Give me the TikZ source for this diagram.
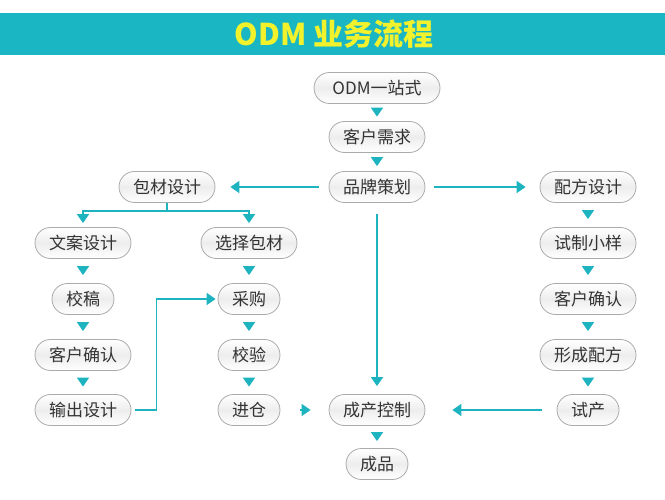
\documentclass[tikz,border=0pt]{standalone}
\usepackage{fontspec}
\newfontfamily\cjk{Noto Sans CJK SC}
\usepackage{tikz}
\usetikzlibrary{calc}
\usetikzlibrary{shapes}
\usetikzlibrary{arrows.meta}

\definecolor{bandteal}{HTML}{1BB6C3}
\definecolor{lineteal}{HTML}{1DB3BF}
\definecolor{titleyellow}{HTML}{F2F22C}
\definecolor{boxgray}{HTML}{ABABAB}
\definecolor{txtgray}{HTML}{333333}

\tikzset{
  pill/.style={rectangle, rounded corners=15.5pt, draw=boxgray, line width=0.8pt,
    top color=white, bottom color=white, middle color=black!7,
    minimum height=31pt, inner xsep=14pt, inner ysep=0pt, text=txtgray,
    font=\cjk\fontsize{17}{17}\selectfont},
  link/.style={draw=lineteal, line width=1.6pt, -{Triangle[length=9pt,width=12pt]}},
  gaptip/.style={link, shorten <=#1, shorten >=#1},
}

\begin{document}
\begin{tikzpicture}[x=1pt, y=-1pt]
\useasboundingbox (0,0) rectangle (665,500);
\fill[bandteal] (0,13) rectangle (665,55);
\draw (334,34) node[name=title, text=titleyellow, font=\cjk\bfseries\fontsize{30}{30}\selectfont]{ODM 业务流程};

% middle column
\draw (377,88) node[pill, name=odm, minimum width=126pt]{ODM一站式};
\draw (odm) + (0,49) node[pill, name=xuqiu]{客户需求};
\draw (xuqiu) + (0,50) node[pill, name=cehua]{品牌策划};
\draw (377,410) node[pill, name=kongzhi]{成产控制};
\draw (kongzhi) + (0,54) node[pill, name=chengpin]{成品};
\draw[gaptip=4.5pt] (odm.south) -- (xuqiu.north);
\draw[gaptip=5pt] (xuqiu.south) -- (cehua.north);
\draw[gaptip=7pt] (kongzhi.south) -- (chengpin.north);
\draw[link, shorten <=11pt, shorten >=8pt] (cehua) -- (kongzhi);

% packaging branch
\draw (167,187) node[pill, name=baocai]{包材设计};
\draw (83,243) node[pill, name=wenan]{文案设计};
\draw (wenan) + (0,56) node[pill, name=jiaogao]{校稿};
\draw (jiaogao) + (0,56) node[pill, name=querenA]{客户确认};
\draw (querenA) + (0,55) node[pill, name=shuchu]{输出设计};
\draw (249,243) node[pill, name=xuanze]{选择包材};
\draw (xuanze) + (0,56) node[pill, name=caigou]{采购};
\draw (caigou) + (0,56) node[pill, name=jiaoyan]{校验};
\draw (jiaoyan) + (0,55) node[pill, name=jincang]{进仓};
\draw[link, shorten <=10pt, shorten >=15pt] (cehua) -- (baocai);
\draw[link, shorten >=4pt] (baocai.south) -- ++(0,8) -| (wenan);
\draw[link, shorten >=4pt] (baocai.south) -- ++(0,8) -| (xuanze);
\draw[gaptip=8pt] (wenan.south) -- (jiaogao.north);
\draw[gaptip=8pt] (jiaogao.south) -- (querenA.north);
\draw[gaptip=7.5pt] (querenA.south) -- (shuchu.north);
\draw[gaptip=8pt] (xuanze.south) -- (caigou.north);
\draw[gaptip=8pt] (caigou.south) -- (jiaoyan.north);
\draw[gaptip=7.5pt] (jiaoyan.south) -- (jincang.north);
\draw[link, shorten <=4pt, shorten >=2pt] (shuchu.east) -- ++(25,0) |- (caigou);
\draw[link, shorten <=20pt, shorten >=18pt] (jincang) -- (kongzhi);

% formula branch
\draw (588,187) node[pill, name=peifang]{配方设计};
\draw (peifang) + (0,56) node[pill, name=shizhi]{试制小样};
\draw (shizhi) + (0,56) node[pill, name=querenB]{客户确认};
\draw (querenB) + (0,56) node[pill, name=xingcheng]{形成配方};
\draw (xingcheng) + (0,55) node[pill, name=shichan]{试产};
\draw[link, shorten <=9pt, shorten >=14pt] (cehua) -- (peifang);
\draw[gaptip=8pt] (peifang.south) -- (shizhi.north);
\draw[gaptip=8pt] (shizhi.south) -- (querenB.north);
\draw[gaptip=8pt] (querenB.south) -- (xingcheng.north);
\draw[gaptip=7.5pt] (xingcheng.south) -- (shichan.north);
\draw[link, shorten <=15pt, shorten >=27pt] (shichan) -- (kongzhi);
\end{tikzpicture}
\end{document}
